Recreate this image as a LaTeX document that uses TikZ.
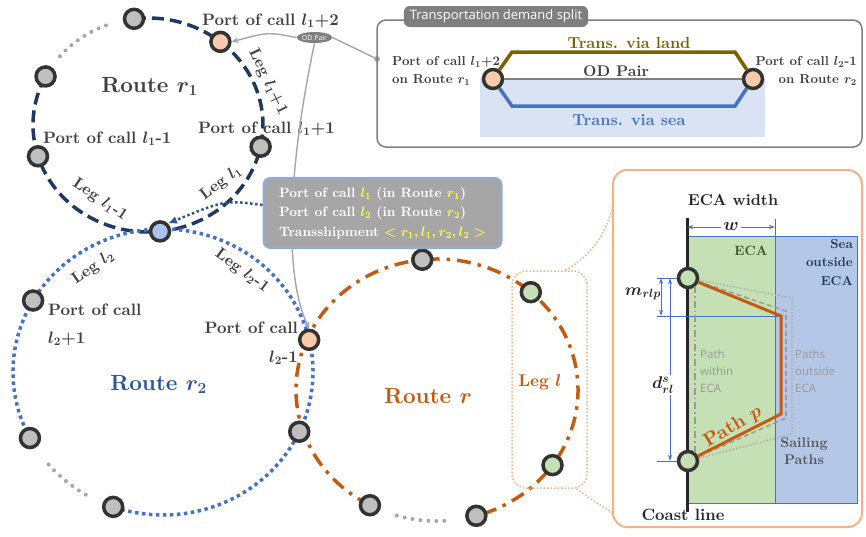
\RequirePackage{fix-cm}
\documentclass[tikz,border=0pt]{standalone}
\usepackage{fontspec}
\setmainfont{lmroman10-regular.otf}[
  BoldFont=lmroman10-bold.otf,
  ItalicFont=lmroman10-italic.otf,
  BoldItalicFont=lmroman10-bolditalic.otf]
\newfontfamily\uisans{Open Sans}
\usetikzlibrary{arrows.meta,shapes.geometric}

\definecolor{navyroute}{HTML}{203864}
\definecolor{blueroute}{HTML}{4472C4}
\definecolor{orroute}{HTML}{C55A11}
\definecolor{portedge}{HTML}{333333}
\definecolor{portfill}{HTML}{BFBFBF}
\definecolor{peach}{HTML}{F8CBAD}
\definecolor{leafgreen}{HTML}{C5E0B4}
\definecolor{skyfill}{HTML}{A9C4EB}
\definecolor{txtgray}{HTML}{404040}
\definecolor{rtwoblue}{HTML}{2F5597}
\definecolor{olive}{HTML}{7F6000}
\definecolor{paleblue}{HTML}{DAE3F3}
\definecolor{ecablue}{HTML}{B4C7E7}
\definecolor{boxgray}{HTML}{A6A6A6}
\definecolor{boxrim}{HTML}{8FAADC}
\definecolor{ylw}{HTML}{FFFF3C}
\definecolor{peachrim}{HTML}{F4B183}
\definecolor{tabgray}{HTML}{7F7F7F}
\definecolor{linkgray}{HTML}{A6A6A6}
\definecolor{ecagreen}{HTML}{385723}
\definecolor{pathgray}{HTML}{9A9A9A}

\newcommand{\fs}[2]{\fontsize{#1}{#2}\selectfont}

\tikzset{
  lktip/.tip={Stealth[length=7pt,width=6pt]},
  dmtip/.tip={Stealth[length=6pt,width=4pt]}
}

\begin{document}
\begin{tikzpicture}[x=1pt,y=-1pt,
  port/.style={circle, draw=portedge, line width=3.5pt, fill=portfill, minimum size=19pt, inner sep=0pt},
  lbl/.style={text=txtgray, font=\fs{16.5}{20}\bfseries\boldmath, inner sep=0pt},
  leglbl/.style={text=txtgray, font=\fs{16}{20}\bfseries\boldmath, inner sep=0pt},
  routelbl/.style={font=\fs{22}{26}\bfseries\boldmath, inner sep=0pt},
  boxlbl/.style={text=txtgray, font=\fs{13}{18}\bfseries\boldmath, inner sep=0pt},
  navydash/.style={draw=navyroute, line width=3.5pt, dash pattern=on 12pt off 6pt},
  bluedots/.style={draw=blueroute, line width=3.5pt, dash pattern=on 3.5pt off 3.5pt},
  orangedashdot/.style={draw=orroute, line width=3.5pt, dash pattern=on 14pt off 7pt on 3.5pt off 7pt},
  graydots/.style={draw=black!35, line width=4pt, line cap=round, dash pattern=on 0pt off 8pt},
  link/.style={draw=linkgray, line width=1.4pt},
  thinblue/.style={draw=blueroute, line width=0.8pt},
  legdots/.style={draw=peachrim, line width=1.5pt, dash pattern=on 1.5pt off 2pt}]

\useasboundingbox (0,0) rectangle (866,536);

% ---------- centres of the three routes
\coordinate (c1) at (148,125);
\coordinate (c2) at (163,372);
\coordinate (c3) at (437,390);

% ---------- route r1 (navy, dashed)
\draw[graydots] ([shift={(220:115 and 107)}]c1) arc[start angle=220, end angle=249, x radius=115, y radius=107];
\draw[navydash] ([shift={(263:115 and 107)}]c1) arc[start angle=263, end angle=567, x radius=115, y radius=107];

% ---------- route r2 (blue, dotted)
\draw[graydots] ([shift={(121:150 and 143)}]c2) arc[start angle=121, end angle=140, x radius=150, y radius=143];
\draw[bluedots] ([shift={(152.5:150 and 143)}]c2) arc[start angle=152.5, end angle=469.4, x radius=150, y radius=143];

% ---------- route r (orange, dash-dot)
\draw[graydots] ([shift={(87:141 and 131)}]c3) arc[start angle=87, end angle=107, x radius=141, y radius=131];
\draw[orangedashdot] ([shift={(118.4:141 and 131)}]c3) arc[start angle=118.4, end angle=433.8, x radius=141, y radius=131];

% ---------- ports of call
\node[port] (n1a) at ([shift={(263:115 and 107)}]c1) {};
\node[port, fill=peach] (n1b) at ([shift={(309:115 and 107)}]c1) {};
\node[port] (n1c) at ([shift={(11.7:115 and 107)}]c1) {};
\node[port, fill=skyfill] (n1d) at ([shift={(84:115 and 107)}]c1) {};
\node[port] (n1e) at ([shift={(163:115 and 107)}]c1) {};
\node[port] (n1f) at ([shift={(207:115 and 107)}]c1) {};

\node[port] (n2a) at ([shift={(210:150 and 143)}]c2) {};
\node[port] (n2b) at ([shift={(152.5:150 and 143)}]c2) {};
\node[port] (n2c) at ([shift={(109.4:150 and 143)}]c2) {};
\node[port] (n2d) at ([shift={(24.7:150 and 143)}]c2) {};
\node[port, fill=peach] (n2e) at ([shift={(347:150 and 143)}]c2) {};

\node[port] (nra) at ([shift={(264:141 and 131)}]c3) {};
\node[port, fill=leafgreen] (nrb) at ([shift={(311.7:141 and 131)}]c3) {};
\node[port, fill=leafgreen] (nrc) at ([shift={(35:141 and 131)}]c3) {};
\node[port] (nrd) at ([shift={(73.8:141 and 131)}]c3) {};
\node[port] (nre) at ([shift={(118.4:141 and 131)}]c3) {};

% ---------- labels of route r1
\node[routelbl, text=txtgray, anchor=base] at (149.5,92) {Route $r_1$};
\node[lbl, anchor=base west] at (202,25) {Port of call $l_1$+2};
\node[lbl, anchor=base west] at (198,133) {Port of call $l_1$+1};
\node[lbl, anchor=base west] at (43,143) {Port of call $l_1$-1};
\node[leglbl, rotate=-64] at (268,82) {Leg $l_1$+1};
\node[leglbl, rotate=37] at (221,183) {Leg $l_1$};
\node[leglbl, rotate=-34] at (100,200) {Leg $l_1$-1};

% ---------- labels of route r2
\node[routelbl, text=rtwoblue, anchor=base] at (158.5,390) {Route $r_2$};
\node[leglbl, rotate=35] at (93,268) {Leg $l_2$};
\node[leglbl, rotate=-36] at (242,271) {Leg $l_2$-1};
\node[lbl, anchor=north west, align=left, font=\fs{16.5}{28}\bfseries\boldmath] at (48,303.5) {Port of call\\$l_2$+1};
\node[lbl, anchor=north east, align=right, font=\fs{16.5}{29}\bfseries\boldmath] at (298,321.5) {Port of call\\$l_2$-1};

% ---------- labels of route r
\node[routelbl, text=orroute, anchor=base] at (428,403) {Route $r$};
\node[leglbl, text=orroute, font=\fs{17}{20}\bfseries\boldmath, anchor=base] at (540,386) {Leg $l$};

% ---------- OD pair links
\node[ellipse, fill=tabgray, text=white, minimum width=35pt, minimum height=11pt, inner sep=0pt,
      font=\uisans\fs{7}{8}] (od) at (314.5,37.5) {OD Pair};
\coordinate (odend) at (377,59);
\draw[link, -{lktip}] (od.west) .. controls (268,32) .. (n1b.east);
\draw[link] (od.east) -- (odend);
\fill[linkgray] (odend) circle (3pt);
\draw[link, -{lktip}] (od.south) .. controls (290,160) and (282,270) .. (n2e.north);

% ---------- transshipment note
\node[fill=boxgray, draw=boxrim, line width=2pt, rounded corners=7pt, minimum width=238pt, minimum height=70pt,
      align=left, text=white, font=\fs{13.5}{19.5}\bfseries\boldmath, inner xsep=10pt] (ts) at (382.5,213)
  {Port of call \textcolor{ylw}{$l_1$} (in Route \textcolor{ylw}{$r_1$})\\
   Port of call \textcolor{ylw}{$l_2$} (in Route \textcolor{ylw}{$r_2$})\\
   Transshipment \textcolor{ylw}{$<r_1, l_1, r_2, l_2>$}};
\draw[draw=rtwoblue, line width=2.5pt, dash pattern=on 2.5pt off 2.5pt, -{Latex[length=9pt,width=8pt]}]
  ([yshift=8pt]ts.west) .. controls (225,200) .. (n1d.north east);

% ---------- transportation demand split
\node[draw=tabgray, line width=1.5pt, rounded corners=9pt, minimum width=485pt, minimum height=127pt] (tbox) at (619.5,83.5) {};
\node[fill=tabgray, text=white, rounded corners=6pt, minimum height=21pt, inner xsep=6pt, font=\uisans\fs{13}{15}] (tab) at (496,16.5) {Transportation demand split};
\fill[paleblue] (480,78) rectangle (765,137);
\coordinate (lu) at (512,52);
\coordinate (ru) at (735,52);
\coordinate (ld) at (512,106);
\coordinate (rd) at (735,106);
\node[port, fill=peach] (pA) at (493,79) {};
\node[port, fill=peach] (pB) at (753,79) {};
\draw[draw=tabgray, line width=2pt] (pA) -- (pB);
\draw[draw=olive, line width=3.5pt] (pA) -- (lu) -- (ru) -- (pB);
\draw[draw=blueroute, line width=3.5pt] (pA) -- (ld) -- (rd) -- (pB);
\node[font=\fs{16}{20}\bfseries, text=olive, anchor=base, inner sep=0pt] at (629,48) {Trans. via land};
\node[font=\fs{15.5}{20}\bfseries, text=txtgray, anchor=base, inner sep=0pt] at (616,76) {OD Pair};
\node[font=\fs{16}{20}\bfseries, text=blueroute, anchor=base, inner sep=0pt] at (629,125) {Trans. via sea};
\node[boxlbl, anchor=north west, align=left] at (392,56) {Port of call $l_1$+2\\on Route $r_1$};
\node[boxlbl, anchor=north east, align=right] at (857,56) {Port of call $l_2$-1\\on Route $r_2$};

% ---------- leg l and its close-up
\node[legdots, rounded corners=14pt, minimum width=75pt, minimum height=217pt] (legbox) at (549.5,379.5) {};
\node[draw=peachrim, line width=2pt, rounded corners=14pt, minimum width=249pt, minimum height=357pt] (inset) at (737.5,348.5) {};
\coordinate (insetA) at (613,203);
\coordinate (insetB) at (613,513);
\draw[legdots] ([xshift=16pt]legbox.north) .. controls (592,255) and (608,232) .. (insetA);
\draw[legdots] ([xshift=27pt]legbox.south) .. controls (592,500) .. (insetB);

% ECA and open sea
\fill[leafgreen] (687,236) rectangle (775,503);
\fill[ecablue] (775,236) rectangle (857,503);
\draw[thinblue] (687,236) rectangle (857,503);
\draw[thinblue] (775,236) -- (775,503);

% coast line
\coordinate (coastTop) at (687,218);
\coordinate (coastBot) at (687,512);
\draw[line width=3pt, black!85] (coastTop) -- (coastBot);

% width of the ECA
\node[font=\fs{15.8}{20}\bfseries, text=black!85, anchor=base, inner sep=0pt] at (733,205) {ECA width};
\coordinate (wL) at (687,227);
\coordinate (wR) at (775,227);
\coordinate (wTickTop) at (775,219);
\coordinate (wTickBot) at (775,236);
\draw[thinblue, {dmtip}-{dmtip}] (wL) -- (wR);
\draw[thinblue] (wTickTop) -- (wTickBot);
\node[fill=white, inner sep=2pt, text=black!85, font=\fs{18}{20}\bfseries\boldmath] at (731,226) {$w$};

\node[font=\fs{13.5}{16}\bfseries, text=ecagreen, anchor=base, inner sep=0pt] at (751,255) {ECA};
\node[font=\fs{13}{18.5}\bfseries, text=navyroute, anchor=north east, align=right, inner sep=0pt] at (853,239) {Sea\\outside\\ECA};

% ports at both ends of leg l
\node[port, fill=leafgreen] (gA) at (688,278) {};
\node[port, fill=leafgreen] (gB) at (688,461) {};

% dimension lines
\coordinate (mTop) at (657,278);
\coordinate (mBot) at (657,316);
\coordinate (mEnd) at (781,316);
\coordinate (dBot) at (657,461);
\draw[thinblue] (mTop) -- (gA.west);
\draw[thinblue] (mBot) -- (mEnd);
\draw[thinblue] (dBot) -- (gB.west);
\coordinate (mA) at (661,278);
\coordinate (mB) at (661,316);
\coordinate (dA) at (670,278);
\coordinate (dB) at (670,461);
\draw[thinblue, {dmtip}-{dmtip}] (mA) -- (mB);
\draw[thinblue, {dmtip}-{dmtip}] (dA) -- (dB);
\node[text=black!85, font=\fs{17}{20}\bfseries\boldmath, inner sep=0pt] at (643,294) {$m_{rlp}$};
\node[fill=white, inner sep=1.5pt, text=black!85, font=\fs{17}{20}\bfseries\boldmath] at (663,385) {$d^{s}_{rl}$};

% sailing paths
\coordinate (wa) at (695,286);
\coordinate (wb) at (695,453);
\draw[draw=pathgray, line width=1.5pt, dash pattern=on 7pt off 3pt on 1.5pt off 3pt] (wa) -- (wb);
\coordinate (oa) at (786,311);
\coordinate (ob) at (786,418);
\draw[draw=pathgray, line width=1.5pt, dash pattern=on 5pt off 3pt] (gA) -- (oa) -- (ob) -- (gB);
\coordinate (qa) at (792,298);
\coordinate (qb) at (792,434);
\draw[draw=pathgray!80, line width=1.5pt, dash pattern=on 1.5pt off 2pt] (gA) -- (qa) -- (qb) -- (gB);
\coordinate (pa) at (781,316);
\coordinate (pb) at (781,414);
\draw[draw=orroute, line width=3pt] (gA) -- (pa) -- (pb) -- (gB);

\node[text=pathgray, font=\uisans\fs{11.5}{17}, anchor=north west, align=left, inner sep=0pt] at (700,350) {Path\\within\\ECA};
\node[text=pathgray, font=\uisans\fs{11.5}{17}, anchor=north west, align=left, inner sep=0pt] at (795,349.5) {Paths\\outside\\ECA};
\node[text=orroute, font=\fs{19}{22}\bfseries\boldmath, rotate=31, inner sep=0pt] at (733,427) {Path $p$};
\node[text=black!65, font=\fs{14}{17}\bfseries, anchor=north, align=center, inner sep=0pt] at (804,437.5) {Sailing\\Paths};
\node[text=black!85, font=\fs{16.4}{20}\bfseries, anchor=base, inner sep=0pt] at (683,520) {Coast line};

\end{tikzpicture}
\end{document}
